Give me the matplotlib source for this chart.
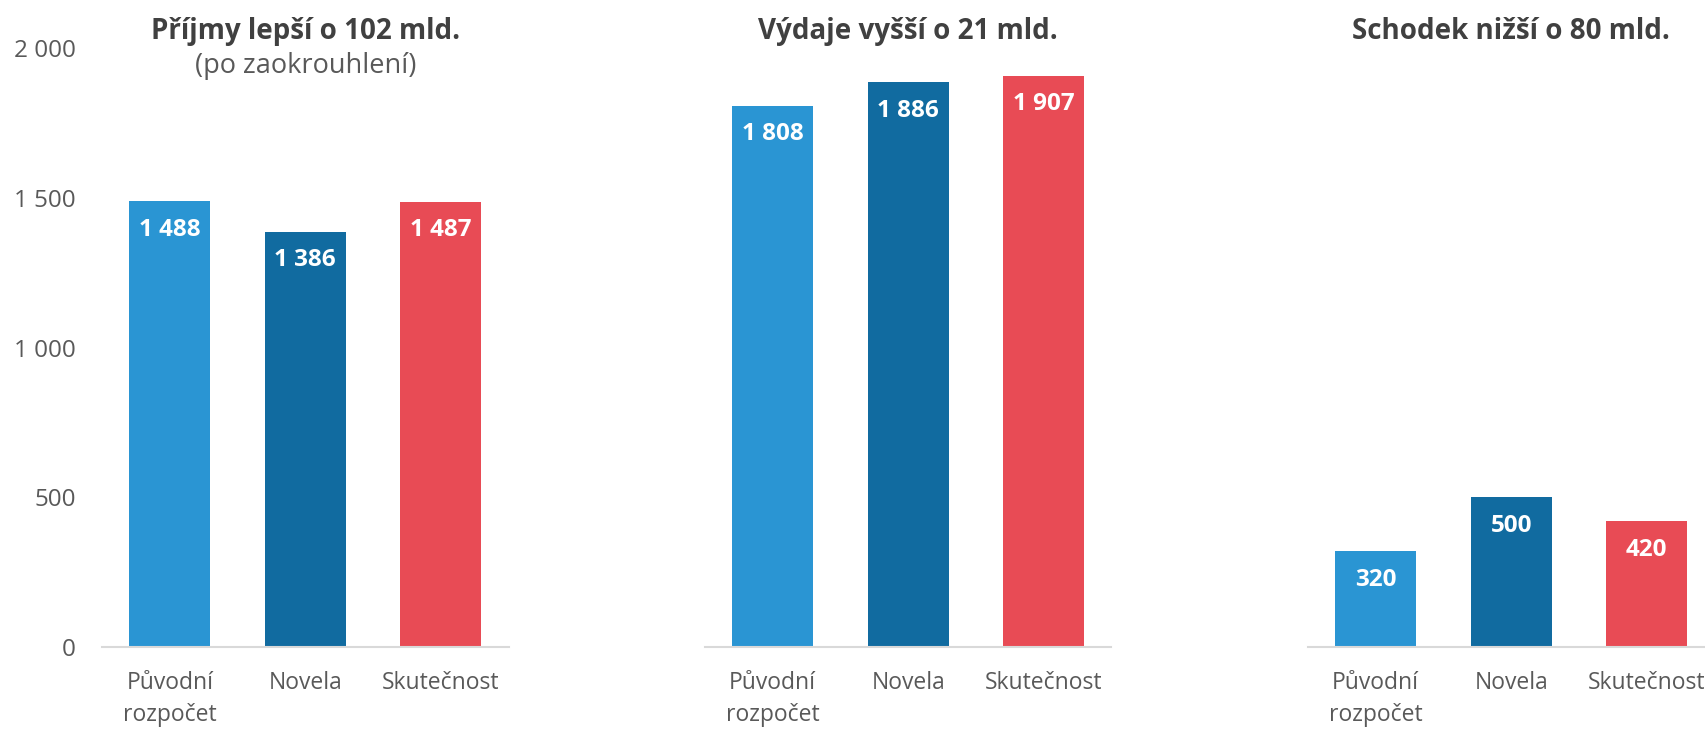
import matplotlib
matplotlib.use("Agg")
import matplotlib.pyplot as plt

# ===== DATA =====
categories = ["Původní\nrozpočet", "Novela", "Skutečnost"]
prijmy = [1488, 1386, 1487]
vydaje = [1808, 1886, 1907]
schodek = [320, 500, 420]

titles = ["Příjmy lepší o 102 mld.", "Výdaje vyšší o 21 mld.", "Schodek nižší o 80 mld."]
subtitles = ["(po zaokrouhlení)", "", ""]
yticks = [0, 500, 1000, 1500, 2000]

colors = ["#2A95D3", "#116BA0", "#E84B55"]
text_color = "#404040"
tick_color = "#595959"

plt.rcParams["font.family"] = ["Open Sans", "DejaVu Sans"]

fig = plt.figure(figsize=(17.06, 7.30), dpi=100)

lefts = [0.0598, 0.4132, 0.7667]
series = [prijmy, vydaje, schodek]

for i, (left, values) in enumerate(zip(lefts, series)):
    ax = fig.add_axes([left, 0.1137, 0.2383, 0.8205])
    x = range(len(categories))
    bars = ax.bar(x, values, width=0.6, color=colors, zorder=2)

    ax.set_xlim(-0.5, 2.5)
    ax.set_ylim(0, 2000)

    for s in ["top", "right", "left"]:
        ax.spines[s].set_visible(False)
    ax.spines["bottom"].set_color("#D9D9D9")
    ax.spines["bottom"].set_linewidth(1.5)

    ax.set_xticks(list(x))
    ax.set_xticklabels(categories, fontsize=16.5, color=tick_color, linespacing=1.42)
    ax.tick_params(axis="x", length=0, pad=17.5)

    if i == 0:
        ax.set_yticks(yticks)
        ax.set_yticklabels([f"{v:,}".replace(",", " ") for v in yticks],
                           fontsize=17.5, color=tick_color)
        ax.tick_params(axis="y", length=0, pad=19)
    else:
        ax.set_yticks([])

    # hodnoty uvnitř sloupců
    for b, v in zip(bars, values):
        ax.annotate(f"{v:,}".replace(",", " "),
                    xy=(b.get_x() + b.get_width() / 2, v),
                    xytext=(0, -20.5), textcoords="offset points",
                    ha="center", va="center", fontsize=17.5,
                    fontweight="bold", color="white", zorder=3)

    ax.text(0.5, 1.027, titles[i], transform=ax.transAxes, ha="center",
            va="center", fontsize=20, fontweight="bold", color=text_color)
    if subtitles[i]:
        ax.text(0.5, 0.970, subtitles[i], transform=ax.transAxes, ha="center",
                va="center", fontsize=19.5, color=tick_color)

fig.savefig("out.png", dpi=100)
